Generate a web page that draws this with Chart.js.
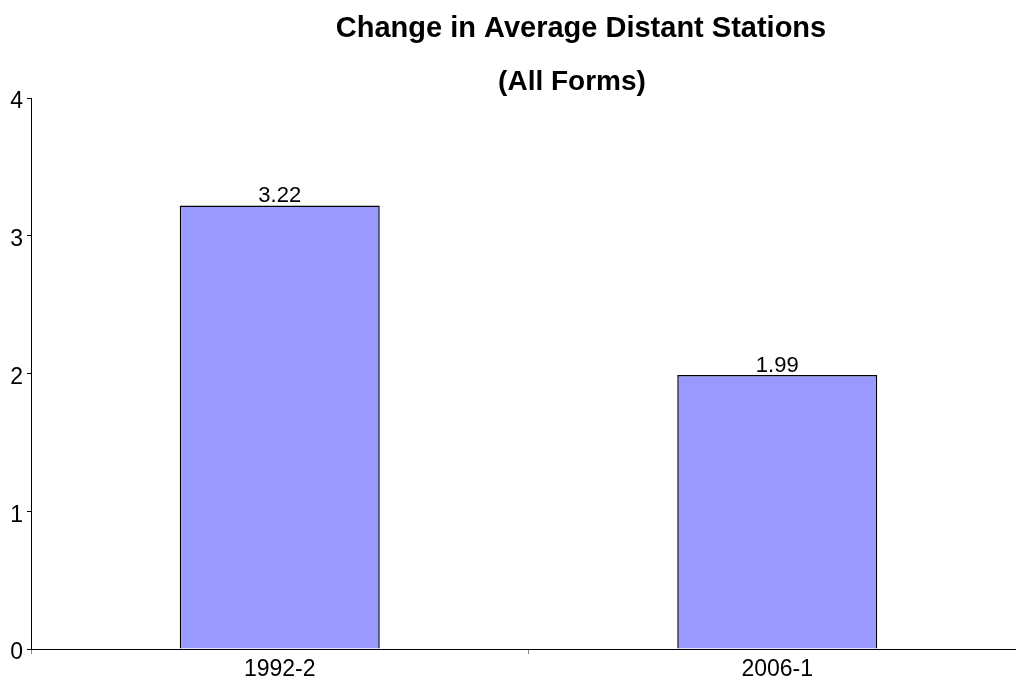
<!DOCTYPE html>
<html>
<head>
<meta charset="utf-8">
<script src="https://cdn.jsdelivr.net/npm/chart.js@4"></script>
<style>
  html, body { margin: 0; padding: 0; background: #fff; overflow: hidden; }
  #wrap { width: 1030px; height: 690px; }
</style>
</head>
<body>
<div id="wrap"><canvas id="grafico"></canvas></div>
<script>
const periodos = ['1992-2', '2006-1'];
const mediaEstacoes = [3.22, 1.99];
const titulo = ['Change in Average Distant Stations', '(All Forms)'];

// titulo em duas linhas, desenhado a mao
const tituloPlugin = {
    id: 'tituloPlugin',
    afterDraw(chart) {
        const ctx = chart.ctx;
        ctx.save();
        ctx.fillStyle = '#000';
        ctx.textAlign = 'center';
        ctx.textBaseline = 'alphabetic';
        ctx.font = 'bold 29px "Liberation Sans", Arial, sans-serif';
        ctx.fillText(titulo[0], 581, 37);
        ctx.font = 'bold 28px "Liberation Sans", Arial, sans-serif';
        ctx.fillText(titulo[1], 572, 90);
        ctx.restore();
    }
};

// valor em cima de cada barra
const valoresPlugin = {
    id: 'valoresPlugin',
    afterDatasetsDraw(chart) {
        const ctx = chart.ctx;
        const meta = chart.getDatasetMeta(0);
        ctx.save();
        ctx.fillStyle = '#000';
        ctx.font = '22px "Liberation Sans", Arial, sans-serif';
        ctx.textAlign = 'center';
        ctx.textBaseline = 'alphabetic';
        meta.data.forEach((bar, i) => {
            ctx.fillText(mediaEstacoes[i].toFixed(2), bar.x, bar.y - 3);
        });
        ctx.restore();
    }
};

const ctx = document.getElementById('grafico').getContext('2d');
const grafico = new Chart(ctx, {
    type: 'bar',
    data: {
        labels: periodos,
        datasets: [{
            data: mediaEstacoes,
            backgroundColor: '#9999ff',
            borderColor: '#000',
            borderWidth: 1.5,
            barPercentage: 0.402,
            categoryPercentage: 1
        }]
    },
    options: {
        responsive: true,
        maintainAspectRatio: false,
        animation: false,
        layout: { padding: { top: 98, right: 4, left: 0, bottom: 0 } },
        plugins: {
            legend: { display: false },
            title: { display: false },
            tooltip: { enabled: false }
        },
        scales: {
            y: {
                min: 0,
                max: 4,
                afterFit(scale) { scale.width = 31; },
                border: { color: '#000', width: 1 },
                grid: { drawOnChartArea: false, drawTicks: true, tickLength: 4, color: '#000' },
                ticks: {
                    stepSize: 1,
                    padding: 4,
                    labelOffset: 4,
                    color: '#000',
                    font: { family: '"Liberation Sans", Arial, sans-serif', size: 23 }
                }
            },
            x: {
                afterFit(scale) { scale.height = 41; },
                border: { color: '#000', width: 1 },
                grid: { drawOnChartArea: false, drawTicks: true, tickLength: 5, color: '#888', offset: true },
                ticks: {
                    padding: 2,
                    color: '#000',
                    font: { family: '"Liberation Sans", Arial, sans-serif', size: 23 }
                }
            }
        }
    },
    plugins: [tituloPlugin, valoresPlugin]
});
</script>
</body>
</html>
